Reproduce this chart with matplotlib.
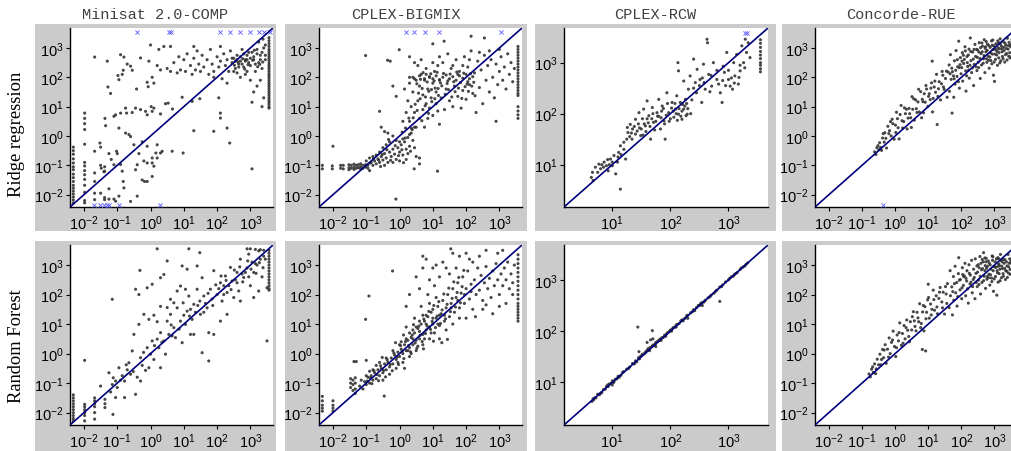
import matplotlib
matplotlib.use("Agg")
import matplotlib.pyplot as plt
from matplotlib.patches import Rectangle
import numpy as np

plt.rcParams["mathtext.fontset"] = "custom"
plt.rcParams["mathtext.rm"] = "Liberation Sans"
plt.rcParams["mathtext.it"] = "Liberation Sans:italic"
plt.rcParams["mathtext.bf"] = "Liberation Sans:bold"
plt.rcParams["font.family"] = ["Liberation Sans", "DejaVu Sans"]

# ---------------- data (log10 of actual runtime, log10 of predicted runtime) ----------------
titles = ["Minisat 2.0-COMP", "CPLEX-BIGMIX", "CPLEX-RCW", "Concorde-RUE"]
row_labels = ["Ridge regression", "Random Forest"]
wide_ticks = [-2, -1, 0, 1, 2, 3]
rcw_ticks = [1, 2, 3]

minisat_ridge = [
    (-2.32,-0.38),(-2.32,-0.5),(-2.32,-0.62),(-2.32,-0.78),(-2.32,-0.92),(-2.32,-1.05),(-2.32,-1.15),(-2.32,-1.3),
    (-2.32,-1.42),(-2.32,-1.55),(-2.32,-1.68),(-2.32,-1.78),(-2.32,-1.88),(-2.32,-1.98),(-2.32,-2.08),(-2.32,-2.18),(-2.32,-2.28),
    (-1.98,0.78),(-1.98,0.6),(-1.98,0.42),(-1.98,0.22),(-1.98,-0.28),(-1.98,-0.9),(-1.98,-1.02),(-1.98,-1.18),(-1.98,-1.32),
    (-1.98,-1.48),(-1.98,-1.68),(-1.98,-1.92),(-1.98,-2.2),(-1.98,-2.28),
    (-1.68,2.69),(-1.3,2.55),(-1.2,1.45),(-1.28,1.67),(-0.95,1.92),(-0.98,2.06),(-0.9,2.77),(-0.8,2.69),(-0.82,2.24),(-0.7,2.45),
    (-0.55,2.24),(-0.42,1.6),(-0.3,2.66),(-0.1,1.83),(-0.07,1.68),(-0.85,2.1),(-0.6,2.38),
    (-1.1,0.67),(-1.05,0.72),(-0.75,0.95),(-0.72,0.78),(-0.9,0.78),(-0.55,0.8),(-0.45,0.95),(-0.3,0.9),(-0.15,0.84),(-0.1,0.72),
    (0.02,1.0),(0.1,0.95),(0.05,0.84),(-0.75,0.1),(-0.65,0.05),(-0.6,-0.02),(-0.95,0.27),(-1.02,-0.52),(-1.0,-0.6),(-0.9,-0.97),
    (-0.85,-1.2),(-0.82,-1.55),(-1.1,-0.98),(-1.18,-0.8),(-1.5,-1.0),(-1.4,-1.22),(-1.48,-1.1),(-1.35,0.35),(-1.37,0.6),
    (-1.52,-0.24),(-1.5,-0.38),(-1.68,-0.52),(-1.68,-1.26),(-1.68,-1.55),(-1.68,-1.95),(-1.68,-2.17),(-1.38,-1.05),(-1.38,-1.2),
    (-1.38,-2.1),(-1.25,-0.6),(-1.25,-1.8),(-1.25,-2.15),
    (-1.5,-1.95),(-1.38,-2.17),(-1.1,-2.15),(-0.95,-2.05),(-0.8,-1.77),(-0.6,-2.23),(-0.4,-2.05),(-1.05,-2.22),
    (0.65,-0.52),(0.98,-0.58),(0.3,-0.58),(0.35,-0.52),(0.2,-0.75),(0.05,-0.92),(0.1,-1.03),(-0.1,-0.92),(-0.4,-0.98),(-0.2,-0.85),
    (0.05,-1.38),(-0.1,-1.55),(-0.25,-1.5),(-0.18,-1.55),(0.05,-0.75),(-0.45,-1.15),(-0.35,-0.6),(-0.5,-0.3),(-0.25,-0.2),
    (-0.1,-0.35),(0.2,-0.3),(0.16,-0.58),
    (0.53,1.12),(0.66,0.92),(0.95,1.32),(1.25,1.18),(1.48,1.27),(1.3,0.18),(1.9,0.16),(2.3,0.27),(2.38,-0.24),(2.1,0.78),
    (2.1,0.61),(3.05,-1.12),(2.05,1.3),(0.45,1.1),(0.3,0.75),
    (0.0,3.1),(0.05,2.0),(0.1,1.8),(0.2,2.4),(0.25,2.95),(0.3,2.25),(0.4,3.05),(0.5,2.3),(0.6,2.2),(0.7,2.5),(0.8,2.15),(0.85,2.7),
    (0.9,2.25),(1.0,2.6),(1.05,2.2),(1.1,2.8),(1.2,2.4),(1.25,2.1),(1.3,2.65),(1.35,2.25),(1.4,2.9),(1.45,2.45),(1.5,2.2),(1.55,2.75),
    (1.6,2.35),(1.7,2.6),(1.75,2.1),(1.8,2.95),(1.85,2.45),(1.9,2.2),(2.0,2.7),(2.05,2.35),(2.1,2.55),(2.15,1.95),(2.2,2.8),
    (2.25,2.4),(2.3,2.6),(2.35,2.2),(2.4,2.9),(2.45,2.5),(2.5,2.65),(2.55,2.3),(2.6,2.75),(2.65,2.45),(2.7,2.55),(2.75,2.95),
    (2.8,2.35),(2.85,2.6),(2.9,2.75),(2.95,2.5),(3.0,2.4),(3.05,2.85),(3.1,2.6),(3.15,2.2),(3.2,2.95),(3.25,2.5),(3.3,2.75),
    (3.35,2.3),(3.4,3.0),(3.45,2.6),(2.1,3.05),(1.3,3.05),(0.6,3.05),(-0.05,2.55),(2.5,2.2),(2.9,2.2),(3.2,1.7),(3.1,1.5),
    (3.3,1.9),(3.0,1.9),(2.7,2.0),(2.3,1.8),(1.9,2.0),(3.4,1.3),(3.35,1.0),(3.05,1.15),(2.85,2.1),(2.6,2.15),
    (2.6,2.6),(2.7,2.7),(2.8,2.8),(2.9,2.6),(3.0,2.65),(3.1,2.7),(3.2,2.8),(3.3,2.6),(2.75,2.45),(2.95,2.85),(3.15,2.45),
    (3.35,2.85),(3.45,2.75),(3.45,3.1),(3.38,3.3),(3.25,3.2),(2.55,2.55),(2.45,2.65),(2.65,2.35),(2.85,2.55),
    (2.63,2.51),(2.77,2.63),(2.93,2.43),(3.07,2.58),(3.22,2.36),(3.37,2.52),(2.52,2.41),(2.83,2.28),(3.12,2.92),(3.28,2.44),
    (3.56,3.35),(3.56,3.25),(3.56,3.15),(3.56,3.05),(3.56,2.95),(3.56,2.88),(3.56,2.8),(3.56,2.72),(3.56,2.65),(3.56,2.58),
    (3.56,2.5),(3.56,2.42),(3.56,2.35),(3.56,2.28),(3.56,2.2),(3.56,2.12),(3.56,2.05),(3.56,1.98),(3.56,1.9),(3.56,1.82),
    (3.56,1.75),(3.56,1.68),(3.56,1.6),(3.56,1.52),(3.56,1.45),(3.56,1.38),(3.56,1.3),(3.56,1.22),(3.56,1.15),(3.56,1.08),
    (3.56,1.0),(3.56,0.95),
]
minisat_ridge_clipped = [(-0.4,3.55),(0.55,3.55),(0.6,3.55),(2.1,3.55),(2.4,3.55),(2.7,3.55),(2.98,3.55),(3.25,3.55),
                         (3.4,3.55),(3.58,3.55),(-1.7,-2.36),(-1.52,-2.36),(-1.4,-2.36),(-1.32,-2.36),(-1.24,-2.36),
                         (-0.95,-2.36),(0.28,-2.36)]

bigmix_ridge = [
    (-2.32,-1.0),(-2.32,-1.12),(-2.02,-1.02),(-2.02,-1.12),(-1.77,-1.0),(-1.77,-1.1),(-1.69,-1.0),(-1.69,-1.12),(-1.52,-0.98),
    (-1.52,-1.08),(-1.52,-1.15),(-1.45,-1.0),(-1.45,-1.1),(-1.37,-0.96),(-1.37,-1.06),(-1.37,-1.14),(-1.3,-1.0),(-1.3,-1.1),
    (-1.24,-0.98),(-1.24,-1.08),(-1.17,-0.95),(-1.17,-1.05),(-1.17,-1.12),(-1.1,-1.0),(-1.1,-1.1),(-1.02,-0.98),(-1.02,-1.06),
    (-0.95,-1.0),(-0.95,-1.1),(-0.9,-1.18),(-0.88,-0.92),(-2.0,-0.35),
    (-0.85,-0.9),(-0.8,-1.0),(-0.75,-0.85),(-0.7,-0.95),(-0.65,-0.78),(-0.6,-0.9),(-0.55,-0.7),(-0.5,-0.82),(-0.45,-0.6),
    (-0.4,-0.75),(-0.35,-0.9),(-0.3,-0.55),(-0.25,-0.7),(-0.2,-0.45),(-0.15,-0.62),(-0.1,-0.8),(-0.05,-0.4),(0.0,-0.55),
    (0.05,-0.3),(0.1,-0.65),(0.15,-0.2),(0.2,-0.45),(0.25,-0.05),(0.3,-0.35),(0.35,0.1),(0.4,-0.15),(0.45,0.3),(-0.6,-0.55),
    (-0.5,-0.4),(-0.4,-0.3),(-0.3,-0.2),(-0.7,-0.65),(-0.2,-0.9),(0.0,-0.85),(0.2,-0.8),(0.1,-0.1),(-0.1,-0.15),(0.3,0.05),
    (-0.45,-1.0),(-0.9,-0.75),(-0.8,-0.7),(-1.0,-0.85),(0.0,-0.2),(0.25,-0.6),(0.45,-0.4),(0.5,-0.7),(0.6,-0.75),(0.6,-0.95),
    (-0.63,-0.82),(-0.52,-0.63),(-0.38,-0.47),(-0.27,-0.83),(-0.13,-0.33),(-0.03,-0.67),(0.07,-0.47),(0.17,-0.07),(0.33,-0.52),
    (0.38,0.22),(-0.57,-1.04),(-0.33,-0.12),(-0.78,-0.77),(0.12,-0.91),
    (-0.6,0.84),(-0.11,-2.15),(0.44,-1.12),(1.14,-1.2),(-1.02,2.74),(-0.36,2.58),(-0.28,2.55),(-0.01,2.94),(1.0,3.14),
    (1.34,3.23),(2.15,3.4),(2.55,3.34),(2.9,0.5),(-0.55,0.3),(-0.45,0.15),(-0.35,0.1),(-0.2,0.0),(-0.1,1.35),(-0.2,1.7),
    (0.3,0.5),(0.35,1.0),(0.4,1.5),(0.45,0.8),(0.5,1.9),(0.5,0.3),(0.55,1.2),(0.6,0.6),(0.6,1.7),(0.65,2.1),(0.7,0.9),
    (0.7,1.4),(0.75,0.3),(0.75,1.95),(0.8,1.1),(0.8,2.3),(0.85,0.6),(0.85,1.6),(0.9,0.95),(0.9,2.0),(0.95,1.3),(1.0,0.7),
    (1.0,1.8),(1.05,2.2),(1.1,1.1),(1.1,1.5),(1.15,0.85),(1.15,2.4),(1.2,1.9),(1.2,0.4),(0.2,0.8),(0.25,1.2),(0.15,1.6),
    (0.1,0.5),(0.4,2.0),(0.3,1.8),(0.55,2.4),(0.65,2.6),(0.45,2.5),(0.3,2.7),
    (0.3,2.0),(0.45,1.95),(0.6,2.05),(0.75,1.9),(0.9,2.02),(1.0,1.95),(1.1,2.05),(1.2,1.92),(1.3,2.0),(1.4,2.08),(1.5,1.95),
    (1.6,2.02),(1.7,1.9),(1.8,2.05),(1.9,1.97),(2.0,2.1),(2.1,1.95),(2.2,2.02),(0.8,2.1),(1.45,1.88),(1.75,2.1),(2.05,1.85),
    (0.52,1.78),(0.63,1.93),(0.71,2.16),(0.83,1.84),(0.94,2.12),(1.04,1.88),(1.13,2.17),(1.23,1.81),(1.32,2.13),(1.43,1.79),
    (1.52,2.11),(1.63,1.85),(1.72,2.18),(1.83,1.82),(1.93,2.14),(2.03,1.77),(2.13,2.12),(2.23,1.83),(0.57,1.46),(0.68,1.62),
    (0.78,1.33),(0.88,1.52),(0.97,1.17),(1.07,1.63),(1.17,1.38),(1.27,1.71),(1.37,1.42),(1.47,1.58),(1.57,1.33),(1.67,1.51),
    (1.77,1.63),(1.87,1.28),(1.97,1.68),(2.07,1.52),(2.17,1.7),(2.27,1.37),(0.41,0.62),(0.47,1.08),(0.53,0.87),(0.62,1.27),
    (0.67,0.52),(0.77,1.03),(0.87,0.77),(0.96,1.58),(1.06,1.27),(1.16,1.62),(0.36,0.26),(0.28,0.61),(0.18,0.27),(0.08,0.13),
    (1.25,1.3),(1.3,2.5),(1.35,0.9),(1.4,1.6),(1.45,2.8),(1.5,1.2),(1.55,2.3),(1.6,1.0),(1.65,1.7),(1.7,2.6),(1.75,1.35),
    (1.8,2.2),(1.85,0.95),(1.9,1.55),(1.95,2.7),(2.0,1.25),(2.05,2.35),(2.1,1.75),(2.15,2.9),(2.2,1.45),(2.25,2.15),(2.3,0.8),
    (2.35,2.55),(2.4,1.65),(2.45,2.25),(2.5,1.1),(2.55,2.75),(2.6,1.9),(2.65,2.4),(2.7,1.5),(2.75,2.6),(2.8,2.0),(2.85,1.3),
    (2.9,2.45),(2.95,1.75),(3.0,2.2),(3.05,2.7),(3.1,1.9),(3.15,2.35),(3.2,1.6),(3.25,2.8),(3.3,2.1),(3.35,2.5),(3.4,1.85),
    (3.45,2.3),(2.1,2.6),(2.4,2.85),(2.7,2.9),(3.0,2.95),(1.6,2.4),(1.9,2.4),(1.2,2.7),(1.0,2.5),
    (3.56,3.05),(3.56,2.95),(3.56,2.85),(3.56,2.75),(3.56,2.65),(3.56,2.55),(3.56,2.45),(3.56,2.35),(3.56,2.25),(3.56,2.15),
    (3.56,2.05),(3.56,1.95),(3.56,1.85),(3.56,1.75),(3.56,1.65),(3.56,1.55),(3.56,1.45),(3.56,1.38),(3.56,1.0),(3.56,0.85),
    (3.56,0.72),(3.56,0.6),
]
bigmix_ridge_clipped = [(0.19,3.55),(0.44,3.55),(0.77,3.55),(1.19,3.55),(3.05,3.55)]

rcw_ridge = [
    (0.66,0.85),(0.64,0.75),(0.67,0.69),(0.71,0.95),(0.77,1.01),(0.8,0.92),(0.86,1.05),(0.9,0.98),(0.93,0.88),(0.97,1.11),
    (1.0,0.98),(1.03,1.18),(1.06,0.82),(1.09,1.05),(1.11,1.24),(1.14,0.52),(1.14,1.37),(1.2,1.44),(1.23,1.11),(1.26,1.73),
    (1.27,1.63),(1.31,1.79),(1.34,1.5),(1.4,1.89),(1.43,1.66),(1.46,2.02),(1.49,1.57),(1.54,2.09),(1.57,1.76),(1.6,2.25),
    (1.63,1.96),(1.66,1.5),(1.69,2.12),(1.71,1.83),(1.77,2.02),(1.8,2.28),(1.83,1.7),(1.86,2.15),(1.89,1.86),(1.91,1.5),
    (1.94,2.41),(1.97,2.02),(2.03,2.22),(2.06,1.93),(2.09,2.09),(2.11,2.35),(2.14,1.99),(2.17,2.22),(2.2,1.89),(2.23,2.09),
    (2.26,2.28),(2.29,1.99),(2.13,3.0),(2.14,2.84),(2.23,2.64),(2.31,2.48),(2.34,2.74),(2.4,3.07),(2.43,2.61),(2.46,2.87),
    (2.51,2.67),(2.54,2.22),(2.57,2.97),(2.6,2.48),(2.63,3.46),(2.64,3.39),(2.66,2.77),(2.71,2.54),(2.74,3.0),(2.8,2.67),
    (2.86,2.41),(2.89,2.22),(2.91,2.93),(2.97,3.2),(3.0,2.67),(3.03,2.54),(3.09,3.0),(3.11,2.74),(3.14,3.16),(3.17,2.58),
    (3.2,2.84),(3.23,3.33),(3.26,3.0),(3.29,3.46),(3.31,3.2),(3.34,3.39),(3.37,3.1),
    (1.5,1.7),(1.55,1.8),(1.6,1.9),(1.65,1.75),(1.7,2.0),(1.75,1.85),(1.8,1.95),(1.85,2.05),(1.9,1.8),(1.95,2.2),(2.0,1.9),
    (2.05,2.05),(2.1,2.0),(2.15,2.1),(2.2,2.05),(2.25,2.15),(2.3,2.1),(1.35,1.7),(1.4,1.6),(1.45,1.8),(1.25,1.5),(1.2,1.3),
    (1.15,1.2),(1.1,1.15),(1.0,1.05),(0.95,1.0),(0.85,0.95),(2.4,2.5),(2.5,2.55),(2.55,2.7),(2.7,2.75),(2.8,2.85),(2.9,2.65),
    (3.0,2.85),(3.1,2.6),(3.2,2.95),(2.95,2.55),(3.05,2.7),(1.3,1.55),(1.38,1.75),(1.52,1.9),(1.58,1.65),(1.68,1.9),
    (1.78,1.95),(1.88,2.1),(1.98,1.85),(2.08,2.2),(2.18,1.95),(2.28,2.2),(2.35,2.0),(0.75,0.85),(0.82,1.0),(0.92,1.1),
    (1.33,1.62),(1.47,1.72),(1.53,1.58),(1.62,1.82),(1.73,1.68),(1.84,1.92),(1.93,1.97),(2.02,2.11),(2.12,1.87),(2.21,2.18),
    (2.27,1.96),(2.37,2.27),(2.45,2.41),(2.58,2.61),(2.68,2.43),(2.83,2.58),(2.93,2.81),(3.07,2.48),(3.18,2.71),(3.28,2.9),
    (3.55,3.45),(3.55,3.38),(3.55,3.3),(3.55,3.22),(3.55,3.15),(3.55,3.08),(3.55,3.0),(3.55,2.95),(3.55,2.88),(3.55,2.82),
]
rcw_ridge_clipped = [(3.29,3.58),(3.32,3.58)]

concorde_ridge = [
    (-0.62,-0.54),(-0.58,-0.63),(-0.55,-0.40),(-0.49,-0.47),(-0.47,-0.23),(-0.41,-0.49),(-0.38,-0.07),(-0.33,-0.21),
    (-0.31,0.11),(-0.26,-0.41),(-0.22,0.33),(-0.19,0.08),(-0.14,0.49),(-0.12,0.0),(-0.07,0.42),(-0.03,-0.11),(0.01,0.37),
    (0.04,0.81),(0.09,0.28),(0.12,-0.10),(0.15,0.73),(0.21,0.52),(0.23,0.27),(0.28,0.96),(0.31,0.76),(0.36,0.24),(0.39,0.61),
    (0.42,0.94),(0.47,0.62),(0.51,1.34),(0.53,0.91),(0.58,0.54),(0.62,1.23),(0.64,0.93),(0.69,1.16),(0.73,0.82),(0.77,1.51),
    (0.80,0.62),(0.84,1.17),(0.88,1.44),(0.91,1.15),(0.95,1.60),(0.99,1.01),(1.03,1.44),(1.06,1.24),(1.10,1.81),(1.13,0.82),
    (1.18,1.67),(1.22,1.49),(1.25,2.10),(1.29,1.35),(1.33,1.85),(1.37,1.23),(1.40,1.78),(1.44,2.07),(1.48,1.59),(1.52,1.96),
    (1.57,1.32),(1.60,2.18),
    (-0.52,-0.33),(-0.44,-0.39),(-0.36,0.08),(-0.28,-0.08),(-0.17,0.18),(-0.09,0.57),(0.02,0.12),(0.07,0.59),(0.18,1.04),
    (0.26,0.49),(0.34,0.91),(0.44,0.76),(0.49,0.29),(0.56,1.27),(0.66,0.80),(0.71,1.59),(0.82,1.25),(0.86,0.79),(0.93,1.72),
    (1.01,1.35),(1.08,1.63),(1.15,1.28),(1.20,1.87),(1.27,0.39),(1.31,1.61),(1.42,2.20),(1.46,1.67),(1.55,2.21),(1.12,2.55),
    (1.72,0.78),
    (1.63,2.42),(1.64,1.52),(1.67,2.77),(1.69,1.93),(1.73,2.19),(1.77,1.32),(1.79,2.56),(1.81,1.77),(1.84,2.91),
    (1.87,2.03),(1.89,2.36),(1.92,3.23),(1.94,1.63),(1.97,2.67),(1.99,2.12),(2.03,2.84),(2.04,1.87),(2.07,2.47),(2.11,3.04),
    (2.13,2.22),(2.14,1.53),(2.17,2.71),(2.19,2.37),(2.23,2.96),(2.24,1.97),(2.27,3.34),(2.29,2.57),(2.31,2.16),(2.34,2.86),
    (2.37,1.72),(2.39,2.44),(1.71,2.31),(1.83,2.24),(1.96,2.43),(2.09,2.61),(2.21,2.76),(1.93,2.33),(2.26,2.41),(1.76,2.05),
    (1.88,2.6),(2.01,2.33),(2.16,2.05),(2.28,2.88),(2.36,2.62),(1.66,2.12),(1.78,1.95),(2.06,2.75),(2.18,2.5),(2.33,2.32),
    (1.91,1.85),(2.02,2.55),(2.12,2.9),(2.22,2.25),(2.38,2.95),
    (2.41,3.12),(2.43,2.71),(2.47,2.23),(2.49,2.93),(2.51,2.52),(2.54,3.18),(2.57,1.96),(2.59,2.81),(2.61,2.42),(2.64,3.06),
    (2.67,2.63),(2.69,3.28),(2.71,2.16),(2.74,2.87),(2.77,2.51),(2.79,3.13),(2.81,2.72),(2.84,2.31),(2.87,3.02),(2.89,2.57),
    (2.91,3.24),(2.94,2.79),(2.97,2.07),(3.0,1.86),(3.01,2.97),(3.03,2.61),(3.04,3.14),(3.07,2.76),(3.09,2.41),(3.11,3.01),
    (3.14,2.84),(3.17,3.31),(3.19,2.56),(3.21,3.06),(3.24,2.71),(3.27,3.21),(3.29,2.91),(3.31,2.52),(3.34,3.09),(3.37,2.81),
    (3.39,3.33),(3.41,2.96),(3.44,3.19),(3.47,2.66),(3.49,3.04),(3.53,3.28),(3.57,2.91),(3.61,3.14),(2.48,2.68),(2.58,3.01),
    (2.68,2.74),(2.78,2.92),(2.88,2.83),(2.98,3.07),(3.08,2.88),(3.18,3.13),(3.28,3.02),(2.53,2.86),(2.73,3.04),(2.93,3.09),
    (3.13,2.66),(3.33,2.77),(2.44,2.36),(2.56,2.64),(2.63,2.87),(2.76,2.63),(2.83,3.08),(2.92,2.46),(3.06,2.93),(3.16,2.49),
    (3.23,2.87),(3.36,2.98),(3.46,2.84),(3.52,2.71),(2.46,2.95),(2.62,3.17),(2.72,2.99),(2.86,2.69),(2.96,2.94),(3.02,2.79),
    (3.12,3.18),(3.22,2.97),(3.32,3.16),(3.42,3.08),(3.56,3.06),(2.66,2.48),(2.82,2.58),(2.99,2.52),(3.15,2.97),(3.26,2.63),
    (3.38,2.59),(3.48,3.11),(2.52,2.33),(2.95,3.27),(3.1,3.24),(2.75,3.22),(3.43,2.72),(3.58,3.2),
]
concorde_ridge_clipped = [(-0.36,-2.34)]

minisat_forest = [
    (-2.32,-1.4),(-2.32,-1.5),(-2.32,-1.6),(-2.32,-1.7),(-2.32,-1.8),(-2.32,-1.9),(-2.32,-2.0),(-2.32,-2.1),(-2.32,-2.2),(-2.32,-2.28),
    (-1.98,-1.72),(-1.98,-1.8),(-1.98,-1.9),(-1.98,-2.0),(-1.98,-2.1),(-1.98,-2.28),(-1.98,-0.23),
    (-1.68,-1.5),(-1.68,-1.6),(-1.68,-1.7),(-1.68,-1.8),(-1.68,-2.0),(-1.68,-2.22),(-1.37,-1.55),(-1.37,-1.7),(-1.37,-1.83),
    (-1.5,-1.1),(-1.25,-0.65),(-1.15,-1.05),(-1.2,-1.3),(-1.05,-0.93),(-1.0,-1.15),(-0.95,-0.48),(-0.85,-0.75),(-0.78,-1.49),
    (-0.7,-0.55),(-0.65,-0.31),(-0.55,0.09),(-0.45,-1.38),(-0.4,-0.8),(-0.3,-0.14),(-0.25,-0.4),(-0.15,-0.57),(-0.1,0.2),
    (0.0,-0.02),(0.05,0.43),(0.1,-0.2),(0.2,0.49),(0.25,0.2),(0.3,0.71),(0.4,0.43),(0.5,1.1),(0.55,0.65),(0.6,1.33),(0.7,0.88),
    (0.75,0.54),(0.8,1.55),(0.9,1.1),(0.98,1.72),(1.05,0.99),(1.1,1.44),(1.15,1.95),(1.2,0.65),(1.25,1.16),(1.3,1.67),(1.4,2.18),
    (1.48,1.78),(1.5,1.33),(1.55,2.57),(1.6,1.95),(1.7,1.55),(1.75,0.71),(1.9,0.65),(1.8,2.18),(1.9,2.81),(2.0,2.0),(2.1,2.4),
    (2.15,1.78),(2.25,2.63),(2.3,2.07),(2.4,2.92),(2.45,2.46),(2.5,1.9),(2.6,2.75),(2.65,2.12),(2.7,3.2),(2.8,2.58),(2.9,2.9),
    (2.95,3.37),(3.0,2.3),(3.1,2.75),(3.2,3.0),(3.25,3.48),(3.35,2.6),(3.45,3.2),(3.5,2.23),(3.5,0.43),
    (-0.32,2.82),(0.2,3.55),(1.15,3.55),(1.48,3.42),(-0.45,2.18),(-0.35,2.0),(-1.15,1.84),(-0.1,2.23),(0.05,2.35),(0.3,2.57),
    (0.5,3.14),(0.4,2.68),(0.95,2.97),(1.1,2.86),(1.4,2.97),(0.7,1.72),(0.3,1.6),(-0.2,1.33),(-0.05,1.16),(-0.35,0.99),
    (-0.5,0.65),(0.1,1.3),(0.2,1.08),(0.5,1.56),(0.6,1.84),(0.9,2.29),(1.05,2.18),(0.8,2.12),
    (0.3,-0.48),(1.55,0.03),(1.75,-0.25),(1.3,0.65),(0.95,0.37),(0.45,-0.02),(-0.05,-0.48),(-0.3,-0.93),(-0.78,-0.93),
    (-1.05,-1.49),(-1.13,-2.06),(2.1,1.1),(2.3,1.33),(2.7,1.78),(3.1,1.9),(3.25,2.12),
    (1.0,1.3),(1.2,1.5),(1.35,1.4),(1.65,1.7),(1.85,1.85),(2.05,2.2),(2.2,2.3),(2.35,2.3),(2.55,2.5),(2.75,2.7),(2.85,2.75),
    (3.05,3.1),(3.15,3.05),(3.3,3.2),(3.4,3.3),(2.6,2.4),(2.95,2.6),(2.2,2.0),(1.6,1.4),(0.65,0.6),(-0.6,-0.7),(-0.9,-0.9),
    (-1.12,-0.82),(-0.73,-0.38),(-0.52,-0.61),(-0.21,0.04),(0.12,0.27),(0.34,0.38),(0.62,0.97),(0.86,0.83),(1.17,1.27),
    (1.42,1.63),(1.73,2.04),(1.96,2.33),(2.27,2.48),(2.52,2.83),(2.77,2.43),(3.02,2.86),(3.27,3.08),(2.42,2.17),(2.68,2.94),
    (2.92,3.14),(3.17,2.72),(3.38,2.91),(2.12,2.63),(1.87,1.63),
    (2.9,3.55),(3.0,3.55),(3.15,3.53),(3.3,3.52),(3.4,3.5),
    (3.56,3.5),(3.56,3.4),(3.56,3.3),(3.56,3.2),(3.56,3.1),(3.56,3.0),(3.56,2.9),(3.56,2.8),(3.56,2.7),(3.56,2.6),(3.56,2.5),
    (3.56,2.4),(3.56,2.3),(3.56,2.2),(3.56,2.15),
]

bigmix_forest = [
    (-2.32,-1.45),(-2.32,-1.6),(-2.32,-1.75),(-2.32,-1.85),(-2.32,-1.95),(-2.0,-1.6),(-2.0,-1.75),(-2.0,-1.85),(-2.0,-1.95),
    (-1.47,-0.85),(-1.47,-1.0),(-1.47,-1.15),(-1.4,-0.9),(-1.4,-1.05),(-1.4,-1.25),(-1.33,-0.82),(-1.33,-1.0),(-1.33,-1.2),(-1.33,-1.35),
    (-1.2,-1.1),(-1.15,-0.9),(-1.1,-1.2),(-1.05,-0.95),(-1.0,-1.05),(-0.95,-0.8),(-0.9,-1.0),(-0.85,-0.75),(-0.8,-0.9),
    (-0.75,-0.65),(-0.7,-0.85),(-0.65,-0.55),(-0.6,-0.75),(-0.55,-0.5),(-0.5,-0.65),(-0.45,-0.35),(-0.4,-0.55),(-0.35,-0.3),
    (-0.3,-0.45),(-0.25,-0.15),(-0.2,-0.35),(-0.15,-0.05),(-0.1,-0.2),(-0.05,0.05),(0.0,-0.1),(0.05,0.15),(0.1,0.0),(0.15,0.3),
    (0.2,0.1),(0.25,0.45),(0.3,0.2),(0.35,0.55),(0.4,0.3),(0.45,0.7),(0.5,0.45),(0.55,0.85),(0.6,0.5),(0.65,1.0),(0.7,0.65),
    (0.75,1.1),(0.8,0.8),(0.85,1.25),(0.9,0.9),(0.95,1.4),(1.0,1.0),(1.05,0.7),(1.1,1.2),(1.15,1.6),(1.2,0.95),(1.25,1.35),
    (1.3,1.8),(1.35,1.1),(1.4,1.55),(1.45,2.0),(1.5,1.25),(1.55,1.7),(1.6,2.2),(1.65,1.4),(1.7,1.9),(1.75,2.4),(1.8,1.55),
    (1.85,2.05),(1.9,2.6),(1.95,1.7),(2.0,2.2),(2.05,2.8),(2.1,1.85),(2.15,2.35),(2.2,1.5),(2.25,2.5),(2.3,2.0),(2.35,2.9),
    (2.4,2.15),(2.45,2.65),(2.5,1.8),(2.55,2.4),(2.6,2.95),(2.65,2.2),(2.7,2.55),(2.75,1.9),(2.8,2.8),(2.85,2.3),(2.9,3.05),
    (2.95,2.5),(3.0,2.0),(3.05,2.7),(3.1,2.3),(3.15,2.9),(3.2,2.5),(3.25,3.1),(3.3,2.2),(3.35,2.7),(3.4,2.4),(3.45,3.0),
    (-0.6,-0.3),(-0.5,-0.9),(-0.4,-0.15),(-0.3,-0.7),(-0.2,0.1),(-0.1,-0.5),(0.0,0.3),(0.1,-0.3),(0.2,0.5),(0.3,-0.1),(0.4,0.8),
    (0.5,0.1),(0.6,1.1),(0.7,0.3),(0.8,1.3),(0.9,0.5),(1.0,1.5),(0.3,0.7),(0.5,0.9),(0.7,1.3),(0.9,1.7),(1.1,1.9),(0.2,0.9),
    (0.45,1.2),(0.65,1.6),(0.85,2.0),(1.05,2.3),(1.2,0.5),(1.4,0.8),(1.6,1.0),(1.8,1.2),(-0.7,-0.4),(-0.8,-0.55),(-0.9,-0.6),
    (-1.0,-0.75),(0.15,-0.5),(0.35,0.0),(0.55,0.25),(0.75,0.5),(0.95,0.7),(1.15,1.0),(1.35,1.3),(1.55,1.55),(1.75,1.8),
    (1.95,2.0),(2.15,2.1),(0.05,0.4),(0.25,0.1),(0.6,0.75),(0.8,1.0),(1.0,1.2),(1.2,1.3),(0.4,0.5),(-0.05,-0.3),
    (-0.97,-0.93),(-0.88,-0.82),(-0.83,-1.02),(-0.77,-0.58),(-0.68,-0.71),(-0.63,-0.92),(-0.57,-0.41),(-0.48,-0.57),
    (-0.42,-0.79),(-0.37,-0.21),(-0.28,-0.37),(-0.22,-0.58),(-0.17,0.02),(-0.08,-0.12),(-0.03,-0.37),(0.03,0.27),(0.08,0.08),
    (0.13,-0.17),(0.18,0.41),(0.27,0.27),(0.33,0.06),(0.38,0.63),(0.47,0.36),(0.52,0.18),(0.58,0.93),(0.62,0.62),(0.68,0.41),
    (0.73,1.17),(0.78,0.68),(0.83,0.93),(0.88,1.43),(0.93,0.82),(0.98,1.09),(1.03,1.63),(1.08,0.88),(1.13,1.27),(1.18,1.76),
    (1.23,1.02),(1.28,1.48),(1.33,2.02),(1.38,1.18),(1.43,1.67),(1.48,2.22),(1.53,1.42),(1.58,1.87),(1.63,2.43),(1.68,1.58),
    (1.73,2.07),(1.78,2.58),(1.83,1.72),(1.88,2.27),(1.93,2.82),(0.12,0.63),(0.42,0.98),(0.72,0.16),(1.02,0.42),(-0.52,-0.13),
    (-0.12,0.37),
    (-1.02,1.16),(-0.92,1.95),(-0.21,2.8),(-1.37,-0.27),(-1.3,-0.27),(-1.0,-0.23),(0.2,1.6),(0.3,2.0),(0.5,2.6),(0.7,2.9),
    (0.8,3.2),(1.0,2.9),(1.2,2.6),(1.3,3.1),(1.54,3.55),(0.7,3.3),(1.6,3.4),(1.8,3.3),(2.0,3.4),(2.1,3.2),(2.95,3.4),(3.1,3.5),
    (1.4,2.9),(1.1,3.0),(0.6,2.2),(0.9,2.5),(1.5,2.7),(1.7,2.9),(2.2,3.1),(2.4,3.3),(2.6,3.5),
    (-0.46,-1.44),(1.27,0.37),(2.28,1.25),(1.44,0.48),(2.0,1.2),(2.5,1.5),(3.2,1.7),(3.0,1.6),(2.8,1.35),(2.6,1.65),(3.4,2.0),
    (3.56,3.35),(3.56,3.2),(3.56,3.05),(3.56,2.9),(3.56,2.75),(3.56,2.6),(3.56,2.45),(3.56,2.3),(3.56,2.15),(3.56,2.0),
    (3.56,1.85),(3.56,1.7),(3.56,1.6),(3.56,1.5),(3.56,1.4),(3.56,1.3),(3.56,1.2),(3.56,1.1),
]

rcw_forest = [
    (0.65,0.63),(0.68,0.66),(0.7,0.7),(0.72,0.7),(0.75,0.77),(0.8,0.79),(0.82,0.8),(0.85,0.86),(0.88,0.87),(0.9,0.92),
    (0.93,0.92),(0.95,0.97),(0.98,0.98),(1.0,1.03),(1.02,1.0),(1.05,1.06),(1.08,1.07),(1.1,1.12),(1.15,1.14),(1.2,1.21),
    (1.25,1.26),(1.3,1.3),(1.35,1.37),(1.4,1.42),(1.42,1.4),(1.45,1.48),(1.48,1.5),(1.5,1.52),(1.52,1.55),(1.55,1.56),
    (1.58,1.6),(1.6,1.63),(1.62,1.66),(1.65,1.68),(1.68,1.7),(1.7,1.73),(1.72,1.72),(1.75,1.78),(1.78,1.8),(1.8,1.82),
    (1.82,1.84),(1.85,1.87),(1.88,1.88),(1.9,1.92),(1.93,1.94),(1.95,1.97),(1.98,1.99),(2.0,2.02),(2.03,2.04),(2.05,2.07),
    (2.08,2.08),(2.1,2.12),(2.12,2.13),(2.15,2.15),(2.18,2.2),(2.2,2.22),(2.25,2.25),(2.3,2.31),(2.35,2.36),(2.38,2.38),
    (2.4,2.42),(2.45,2.46),(2.5,2.5),(2.52,2.54),(2.55,2.56),(2.6,2.6),(2.65,2.65),(2.7,2.7),(2.75,2.74),(2.8,2.8),
    (2.85,2.86),(2.9,2.9),(2.95,2.96),(3.0,3.0),(3.05,3.06),(3.08,3.07),(3.1,3.1),(3.15,3.14),(3.2,3.2),(3.25,3.25),
    (3.3,3.3),(3.33,3.33),
    (0.67,0.68),(0.78,0.76),(0.92,0.95),(1.03,1.01),(1.12,1.1),(1.18,1.2),(1.28,1.27),(1.38,1.36),(1.47,1.46),(1.57,1.58),
    (1.64,1.62),(1.74,1.75),(1.84,1.82),(1.92,1.9),(2.02,2.0),(2.1,2.08),(2.22,2.2),(2.28,2.3),(2.42,2.4),(2.48,2.5),
    (2.58,2.57),(2.68,2.67),(2.78,2.78),(2.88,2.87),(3.02,3.03),(3.12,3.12),(3.22,3.23),(3.28,3.27),
    (1.44,2.08),(1.69,2.01),(2.85,2.58),(1.66,1.83),(1.46,1.6),(1.6,1.78),(1.7,1.85),(1.75,1.7),(2.3,2.25),(1.0,0.95),(2.55,2.5),
]

concorde_forest = [
    (-0.79,-0.69),(-0.75,-0.79),(-0.71,-0.53),(-0.66,-0.64),(-0.62,-0.35),(-0.59,-0.68),(-0.54,-0.19),(-0.50,-0.38),
    (-0.46,-0.02),(-0.43,-0.38),(-0.38,0.14),(-0.35,-0.14),(-0.30,0.30),(-0.27,-0.33),(-0.23,0.15),(-0.18,0.53),(-0.15,0.0),
    (-0.11,0.38),(-0.06,0.76),(-0.02,0.24),(0.02,-0.10),(0.06,0.63),(0.10,0.43),(0.14,1.04),(0.19,0.28),(0.22,0.68),
    (0.27,0.95),(0.30,0.50),(0.35,1.14),(0.38,0.79),(0.43,0.40),(0.46,1.08),(0.50,0.80),(0.55,1.42),(0.58,1.11),(0.63,0.77),
    (0.66,1.40),(0.71,1.08),(0.74,1.69),(0.79,1.02),(0.83,1.41),(0.87,0.77),(0.90,1.59),(0.95,1.40),(0.98,1.82),(1.03,1.20),
    (1.07,1.68),(1.11,1.50),(1.15,2.15),(1.19,1.47),(1.24,1.96),(1.28,1.35),(1.32,1.87),(1.36,2.24),(1.41,1.75),(1.45,2.08),
    (1.49,1.34),(1.54,2.02),(1.58,2.37),
    (-0.68,-0.45),(-0.57,-0.52),(-0.41,-0.20),(-0.33,0.12),(-0.20,-0.12),(-0.08,0.46),(0.04,0.20),(0.12,0.71),(0.24,0.35),
    (0.33,0.88),(0.41,0.58),(0.52,1.25),(0.60,0.92),(0.69,1.21),(0.77,0.88),(0.85,1.63),(0.93,1.18),(1.01,1.90),(1.09,1.31),
    (1.17,1.83),(1.26,1.58),(1.34,2.08),(1.43,1.55),(1.52,2.27),(1.56,1.70),(1.0,2.35),(0.82,0.14),(0.92,0.09),
    (1.63,1.56),(1.66,2.81),(1.67,1.96),(1.71,2.26),(1.73,1.31),(1.76,2.61),(1.77,1.81),(1.81,2.96),(1.83,2.06),(1.86,2.41),
    (1.87,1.61),(1.91,2.71),(1.92,3.25),(1.96,2.16),(1.97,2.51),(2.01,1.86),(2.03,2.91),(2.06,2.31),(2.07,2.61),(2.11,3.06),
    (2.13,1.96),(2.16,2.46),(2.17,2.81),(2.21,1.71),(2.23,3.01),(2.26,2.36),(2.27,2.66),(2.31,3.16),(2.33,2.06),(2.36,2.51),
    (2.37,2.86),(2.41,1.86),(1.79,2.37),(1.94,2.49),(2.09,2.63),(2.24,2.72),(2.39,2.58),(2.02,2.23),(2.29,2.42),(1.74,2.1),
    (1.89,1.93),(2.04,2.68),(2.19,2.2),(2.34,2.27),(2.14,2.55),
    (2.42,3.21),(2.44,2.72),(2.48,2.27),(2.51,3.01),(2.52,2.49),(2.56,3.29),(2.58,2.02),(2.61,2.84),(2.62,2.41),(2.66,3.11),
    (2.67,3.42),(2.69,2.62),(2.71,3.24),(2.73,2.21),(2.76,2.89),(2.77,2.52),(2.81,3.14),(2.83,2.69),(2.86,2.32),(2.87,3.01),
    (2.91,2.56),(2.93,3.31),(2.96,2.81),(2.97,2.11),(3.01,2.94),(3.03,2.61),(3.06,3.21),(3.07,1.98),(3.09,2.74),(3.11,2.42),
    (3.13,3.04),(3.16,2.86),(3.18,3.36),(3.21,2.57),(3.23,3.11),(3.26,2.71),(3.27,3.19),(3.31,2.89),(3.33,2.51),(3.36,3.11),
    (3.37,2.79),(3.41,3.36),(3.43,2.94),(3.46,3.21),(3.47,2.69),(3.51,3.06),(3.54,3.31),(3.57,2.89),(3.61,3.16),(2.49,2.76),
    (2.59,3.06),(2.71,2.81),(2.79,2.96),(2.89,2.86),(3.02,3.11),(3.11,2.96),(3.19,3.16),(3.29,3.06),(2.54,2.91),(2.74,3.11),
    (2.94,3.16),(3.14,2.71),(3.34,2.81),(2.45,2.41),(2.57,2.62),(2.64,2.88),(2.78,2.61),(2.84,3.07),(2.92,2.44),(3.04,2.92),
    (3.17,2.47),(3.24,2.88),(3.38,2.97),(3.47,2.85),(3.53,2.69),(2.47,2.97),(2.63,3.19),(2.72,2.98),(2.88,2.67),(2.98,2.95),
    (3.08,2.81),(3.12,3.22),(3.22,2.96),(3.32,3.18),(3.44,3.06),(3.56,3.02),(2.67,2.47),(2.82,2.57),(2.99,2.53),(3.15,2.98),
    (3.27,2.62),(3.39,2.58),(3.49,3.12),(2.53,2.34),(2.95,3.28),(3.1,3.25),(2.75,3.23),(3.42,2.73),(3.58,3.21),
]

ridge_rows = [minisat_ridge, bigmix_ridge, rcw_ridge, concorde_ridge]
ridge_clipped = [minisat_ridge_clipped, bigmix_ridge_clipped, rcw_ridge_clipped, concorde_ridge_clipped]
forest_rows = [minisat_forest, bigmix_forest, rcw_forest, concorde_forest]
panel_ticks = [wide_ticks, wide_ticks, rcw_ticks, wide_ticks]
panel_limits = [(-2.42, 3.68), (-2.42, 3.68), (0.17, 3.68), (-2.42, 3.68)]

# ---------------- layout (pixels) ----------------
W, H = 1011, 452
fig = plt.figure(figsize=(W / 100, H / 100), dpi=100)
fig.patch.set_facecolor("white")

col_axes_x = [(70, 273), (319, 522), (564, 768), (815, 1017)]
col_gray_x = [(35, 276), (285, 527), (535, 776), (782, 1020)]
row_axes_y = [(29, 208), (246, 426)]
row_gray_y = [(25, 232), (242, 462)]
GRAY = "#cbcbcb"
DOT = "#333333"
LINE = "#00007f"
XCOL = "#5a5aff"

def to_fig(x0, x1, y0, y1):
    return [x0 / W, 1 - y1 / H, (x1 - x0) / W, (y1 - y0) / H]

for r in range(2):
    for c in range(4):
        gx0, gx1 = col_gray_x[c]
        gy0, gy1 = row_gray_y[r]
        fig.patches.append(Rectangle((gx0 / W, 1 - gy1 / H), (gx1 - gx0) / W, (gy1 - gy0) / H,
                                     transform=fig.transFigure, facecolor=GRAY, edgecolor="none", zorder=-5))

for r in range(2):
    for c in range(4):
        ax = fig.add_axes(to_fig(col_axes_x[c][0], col_axes_x[c][1], row_axes_y[r][0], row_axes_y[r][1]))
        ax.set_zorder(5)
        ax.set_facecolor("white")
        lo, hi = panel_limits[c]
        ax.set_xscale("log")
        ax.set_yscale("log")
        ax.set_xlim(10 ** lo, 10 ** hi)
        ax.set_ylim(10 ** lo, 10 ** hi)
        pts = ridge_rows[c] if r == 0 else forest_rows[c]
        xs = np.power(10.0, [p[0] for p in pts])
        ys = np.power(10.0, [p[1] for p in pts])
        ax.scatter(xs, ys, s=5, color=DOT, edgecolors="none", alpha=0.9, zorder=2)
        if r == 0 and ridge_clipped[c]:
            cx = np.power(10.0, [p[0] for p in ridge_clipped[c]])
            cy = np.power(10.0, [p[1] for p in ridge_clipped[c]])
            ax.scatter(cx, cy, s=9, marker="x", color=XCOL, linewidths=0.6, zorder=3, clip_on=False)
        ax.plot([10 ** lo, 10 ** hi], [10 ** lo, 10 ** hi], color=LINE, lw=1.2, zorder=4)
        ticks = [10.0 ** k for k in panel_ticks[c]]
        labels = [r"$10^{%d}$" % k for k in panel_ticks[c]]
        ax.set_xticks(ticks)
        ax.set_xticklabels(labels)
        ax.set_yticks(ticks)
        ax.set_yticklabels(labels)
        ax.minorticks_off()
        ax.tick_params(axis="both", which="major", direction="out", length=3, width=0.8,
                       labelsize=10.5, pad=1.5, colors="black")
        for s in ["top", "right"]:
            ax.spines[s].set_visible(False)
        for s in ["left", "bottom"]:
            ax.spines[s].set_color("black")
            ax.spines[s].set_linewidth(1.0)

for c in range(4):
    gx0, gx1 = col_gray_x[c]
    fig.text((gx0 + gx1) / 2 / W, 1 - 15 / H, titles[c], ha="center", va="center",
             family=["Liberation Mono", "DejaVu Sans Mono"], fontsize=11, color="#404040")

row_label_y = [134, 346]
for r in range(2):
    fig.text(17 / W, 1 - row_label_y[r] / H, row_labels[r], rotation=90, ha="center", va="center",
             family=["Liberation Serif", "DejaVu Serif"], fontsize=13.3, color="black")

fig.savefig("out.png", dpi=100)
